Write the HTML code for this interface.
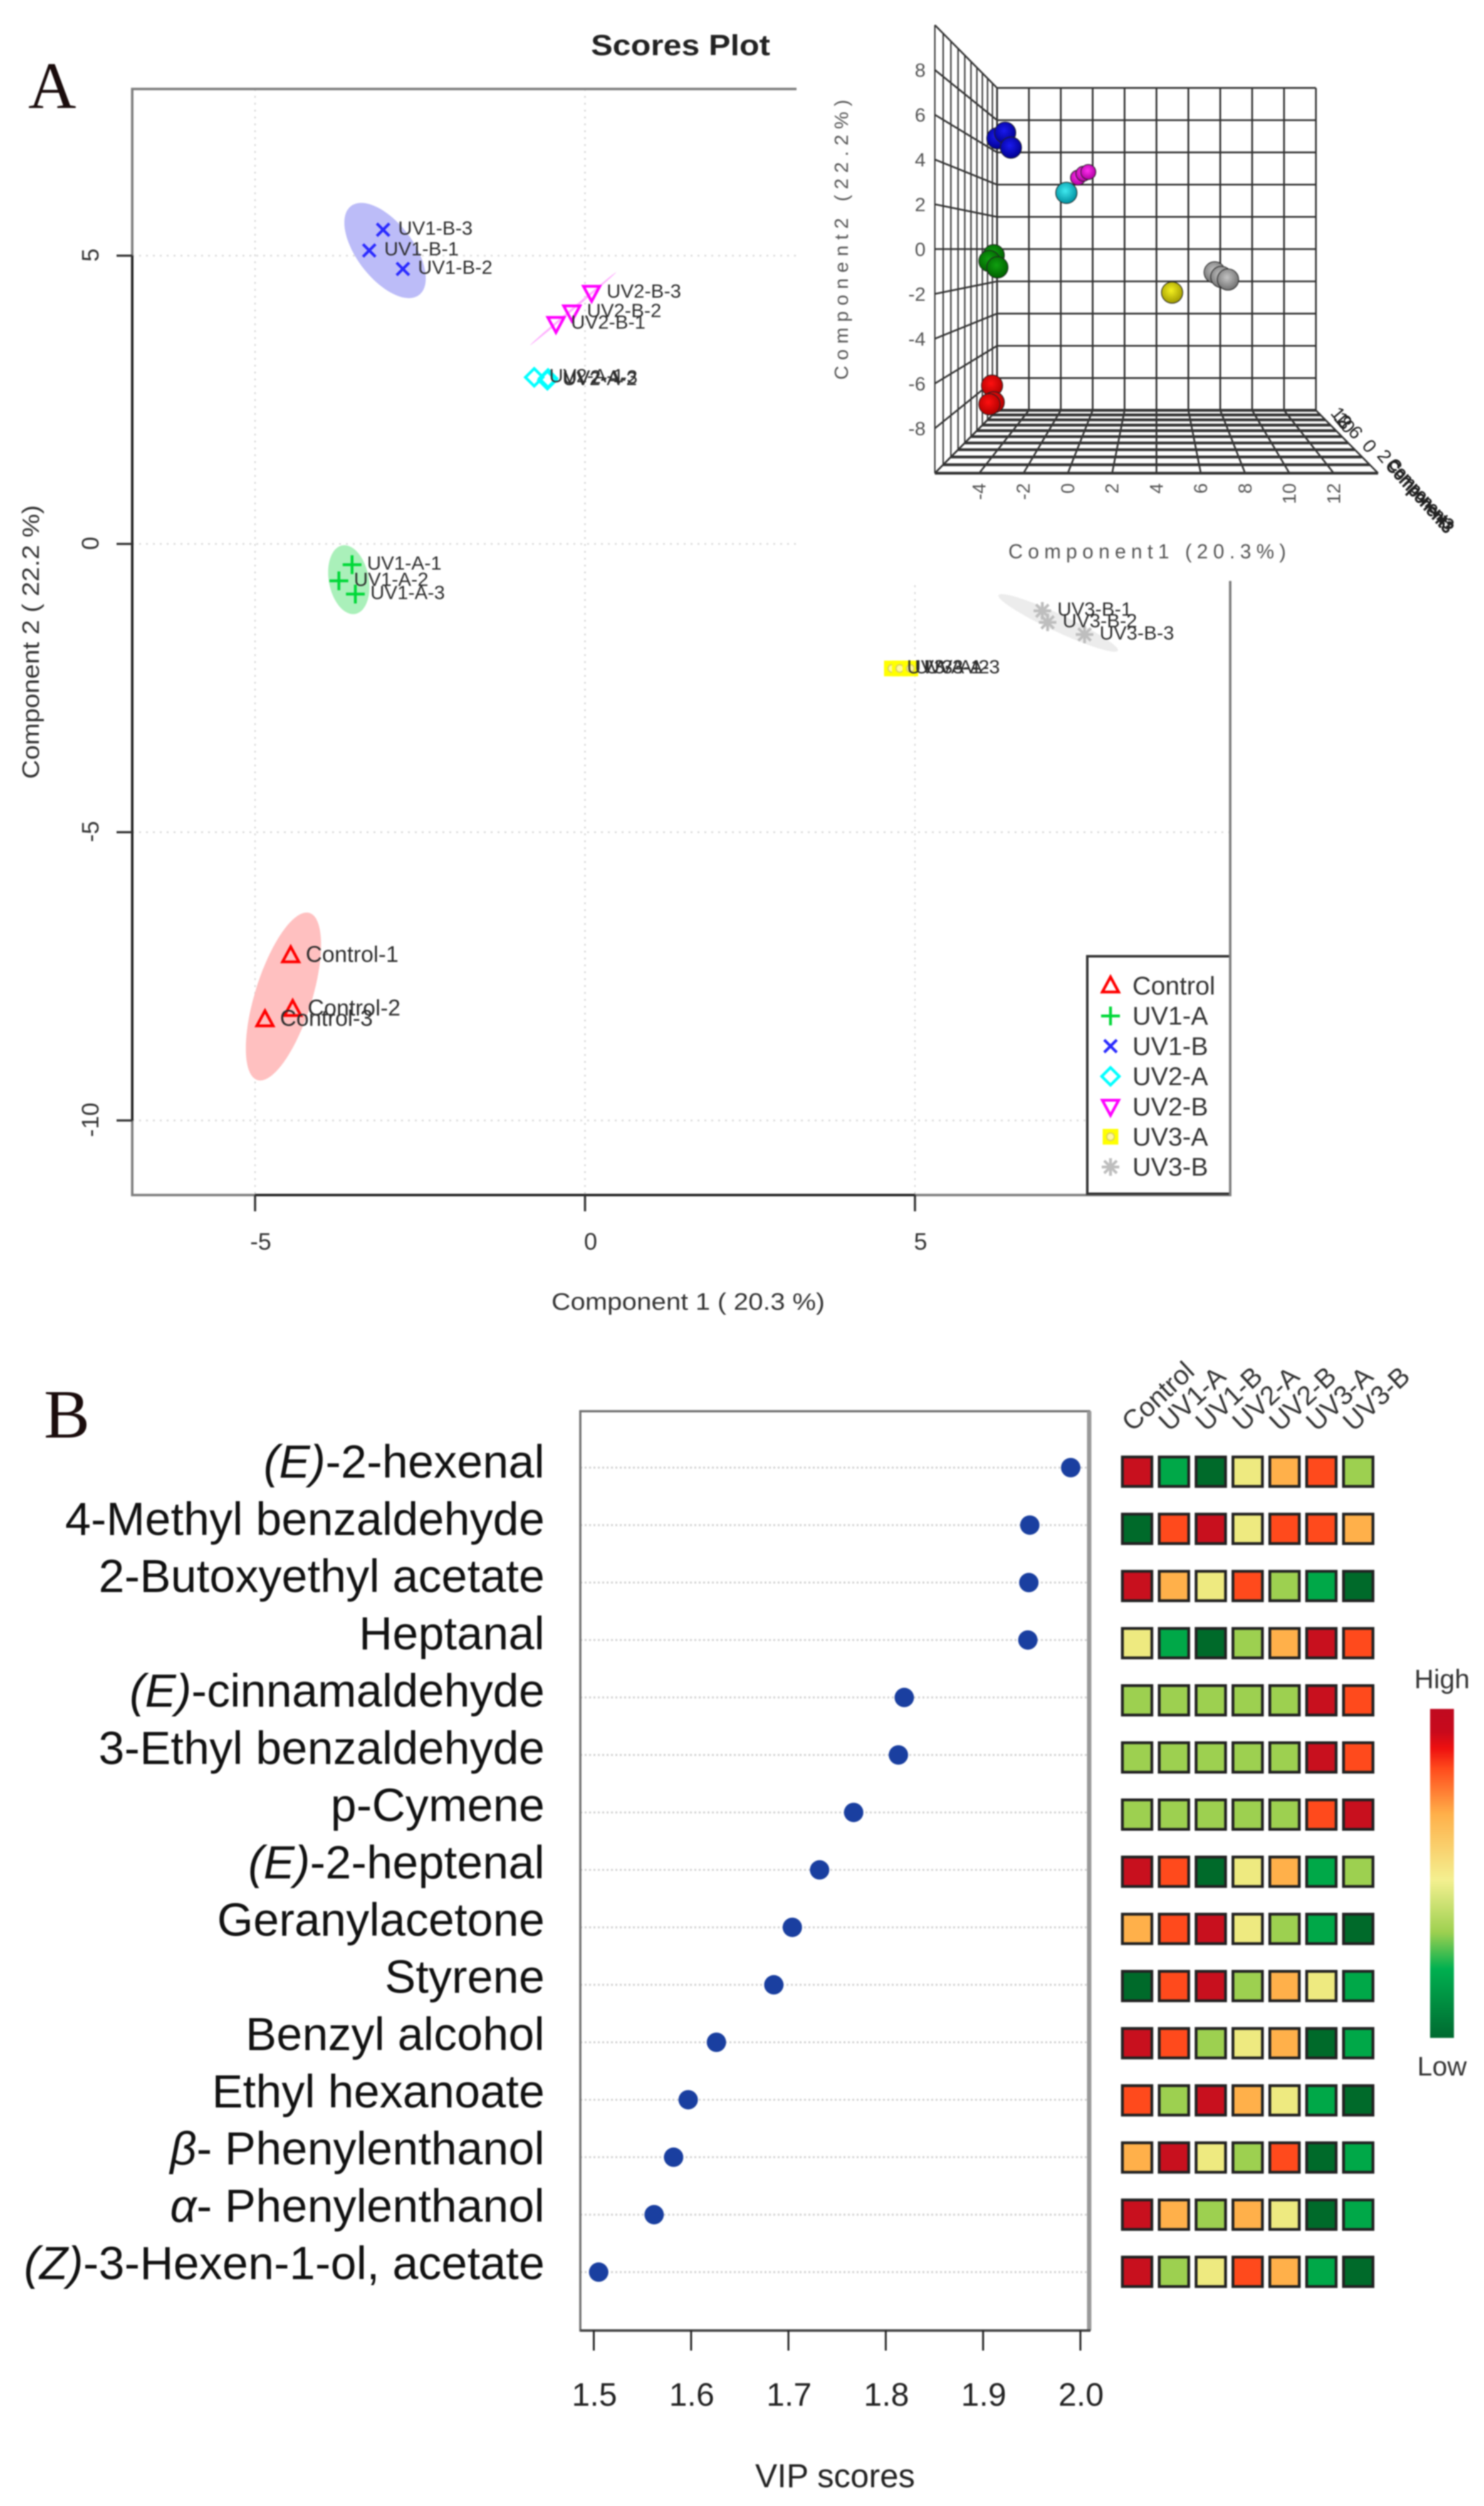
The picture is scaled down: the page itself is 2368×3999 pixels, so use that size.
<!DOCTYPE html>
<html lang="en">
<head>
<meta charset="utf-8">
<title>Scores plot and VIP scores</title>
<style>
html,body{margin:0;padding:0;background:#fff;width:2368px;height:3999px;overflow:hidden}
svg{display:block;filter:blur(1.1px)}
text{font-family:"Liberation Sans",sans-serif}
.serif{font-family:"Liberation Serif",serif}
</style>
</head>
<body>
<svg id="fig" xmlns="http://www.w3.org/2000/svg" width="2368" height="3999" viewBox="0 0 2368 3999">
  <defs>
    <radialGradient id="sph-blue" cx="45%" cy="40%" r="60%"><stop offset="0" stop-color="#1a1af0"/><stop offset="1" stop-color="#000090"/></radialGradient>
    <radialGradient id="sph-magenta" cx="45%" cy="40%" r="60%"><stop offset="0" stop-color="#ff30f0"/><stop offset="1" stop-color="#b000a0"/></radialGradient>
    <radialGradient id="sph-cyan" cx="45%" cy="40%" r="60%"><stop offset="0" stop-color="#40eaf0"/><stop offset="1" stop-color="#0090a0"/></radialGradient>
    <radialGradient id="sph-green" cx="45%" cy="40%" r="60%"><stop offset="0" stop-color="#10a010"/><stop offset="1" stop-color="#006000"/></radialGradient>
    <radialGradient id="sph-red" cx="45%" cy="40%" r="60%"><stop offset="0" stop-color="#ff1010"/><stop offset="1" stop-color="#b00000"/></radialGradient>
    <radialGradient id="sph-yellow" cx="45%" cy="40%" r="60%"><stop offset="0" stop-color="#f4f020"/><stop offset="1" stop-color="#a09a00"/></radialGradient>
    <radialGradient id="sph-gray" cx="45%" cy="40%" r="60%"><stop offset="0" stop-color="#c4c4c4"/><stop offset="1" stop-color="#707070"/></radialGradient>
    <linearGradient id="heat-gradient" x1="0" y1="0" x2="0" y2="1">
      <stop offset="0" stop-color="#c00a20"/>
      <stop offset="0.07" stop-color="#c80a1c"/>
      <stop offset="0.12" stop-color="#ee1010"/>
      <stop offset="0.18" stop-color="#ff4a1c"/>
      <stop offset="0.32" stop-color="#ffb04a"/>
      <stop offset="0.52" stop-color="#f4f090"/>
      <stop offset="0.68" stop-color="#9dd050"/>
      <stop offset="0.79" stop-color="#00b050"/>
      <stop offset="1" stop-color="#006a30"/>
    </linearGradient>
  </defs>

  <rect x="0" y="0" width="2368" height="3999" fill="#fff"/>

  <text class="serif" x="45" y="172" font-size="106" fill="#1a0c0c">A</text>
  <text x="943" y="88" font-size="46" font-weight="bold" fill="#222" textLength="286" lengthAdjust="spacingAndGlyphs">Scores Plot</text>

  <g id="scores"></g>

  <rect x="1271" y="0" width="1097" height="927" fill="#fff"/>
  <rect x="1961" y="927" width="4" height="980" fill="#808080"/>

  <g id="inset"></g>

  <text transform="translate(1353,606) rotate(-90)" font-size="31" fill="#555" textLength="447" lengthAdjust="spacing">Component2 (22.2%)</text>
  <text x="1609" y="891" font-size="32" fill="#555" textLength="443" lengthAdjust="spacing">Component1 (20.3%)</text>
  <g fill="#222" font-size="30">
    <text transform="translate(2122,660) rotate(50)">12</text>
    <text transform="translate(2127,668) rotate(50)">10</text>
    <text transform="translate(2133,675) rotate(50)">8</text>
    <text transform="translate(2150,690) rotate(50)">6</text>
    <text transform="translate(2172,712) rotate(50)">0</text>
    <text transform="translate(2196,728) rotate(50)">2</text>
    <text transform="translate(2210,744) rotate(48)" font-size="27" stroke="#222" stroke-width="1.5" textLength="146" lengthAdjust="spacingAndGlyphs">Component3</text>
    <text transform="translate(2214,741) rotate(48)" font-size="25" stroke="#222" stroke-width="1" textLength="142" lengthAdjust="spacingAndGlyphs">Component3</text>
  </g>

  <text class="serif" x="70" y="2294" font-size="110" fill="#1a0c0c">B</text>

  <g id="vip"></g>
  <g id="heat"></g>

  <rect x="2282" y="2727" width="38" height="525" fill="url(#heat-gradient)"/>
  <text x="2301" y="2694" font-size="43" text-anchor="middle" fill="#333">High</text>
  <text x="2301" y="3312" font-size="43" text-anchor="middle" fill="#333">Low</text>
</svg>

<script>
// ---- Panel A: 2D scores ----
const groupNames = ["Control", "UV1-A", "UV1-B", "UV2-A", "UV2-B", "UV3-A", "UV3-B"];
const scoreLabels = ["Control-1", "Control-2", "Control-3", "UV1-A-1", "UV1-A-2", "UV1-A-3", "UV1-B-1", "UV1-B-2", "UV1-B-3", "UV2-A-1", "UV2-A-2", "UV2-A-3", "UV2-B-1", "UV2-B-2", "UV2-B-3", "UV3-A-1", "UV3-A-2", "UV3-A-3", "UV3-B-1", "UV3-B-2", "UV3-B-3"];
const scoreGroup = [0, 0, 0, 1, 1, 1, 2, 2, 2, 3, 3, 3, 4, 4, 4, 5, 5, 5, 6, 6, 6];
const scoreComp1 = [-4.46, -4.43, -4.85, -3.53, -3.73, -3.48, -3.27, -2.76, -3.06, -0.77, -0.57, -0.56, -0.44, -0.20, 0.10, 4.65, 4.77, 4.93, 6.93, 7.01, 7.57];
const scoreComp2 = [-7.14, -8.07, -8.25, -0.36, -0.64, -0.87, 5.09, 4.77, 5.45, 2.89, 2.84, 2.87, 3.82, 4.02, 4.36, -2.16, -2.16, -2.16, -1.16, -1.36, -1.57];
const ellipseGroup = [0, 1, 2, 4, 6];
const ellipseMeanX = [-4.57, -3.58, -3.03, -0.18, 7.17];
const ellipseMeanY = [-7.85, -0.62, 5.09, 4.08, -1.37];
const ellipseSdX = [0.570, 0.313, 0.617, 0.652, 0.906];
const ellipseSdY = [1.457, 0.598, 0.826, 0.633, 0.500];
const ellipseCorr = [0.617, -0.212, -0.585, 0.999, -0.943];
const scoreXTicks = [-5, 0, 5];
const scoreYTicks = [5, 0, -5, -10];

// ---- Panel A inset: 3D scores ----
const insetSeries = [2, 2, 2, 4, 4, 4, 3, 1, 1, 1, 0, 0, 0, 5, 6, 6, 6];
const insetComp1 = [-3.46, -3.10, -2.83, 0.29, 0.54, 0.77, -0.25, -3.63, -3.83, -3.46, -3.71, -3.63, -3.83, 4.67, 6.65, 6.96, 7.27];
const insetComp2 = [5.10, 5.36, 4.67, 3.29, 3.47, 3.55, 2.59, -0.28, -0.55, -0.84, -6.28, -7.05, -7.14, -2.00, -1.07, -1.28, -1.40];
const insetXTicks = [-4, -2, 0, 2, 4, 6, 8, 10, 12];
const insetYTicks = [8, 6, 4, 2, 0, -2, -4, -6, -8];

// ---- Panel B: VIP ----
const vipPrefix = ["(E)", "", "", "", "(E)", "", "", "(E)", "", "", "", "", "β", "α", "(Z)"];
const vipName = ["-2-hexenal", "4-Methyl benzaldehyde", "2-Butoxyethyl acetate", "Heptanal", "-cinnamaldehyde", "3-Ethyl benzaldehyde", "p-Cymene", "-2-heptenal", "Geranylacetone", "Styrene", "Benzyl alcohol", "Ethyl hexanoate", "- Phenylenthanol", "- Phenylenthanol", "-3-Hexen-1-ol, acetate"];
const vipScores = [1.990, 1.948, 1.947, 1.946, 1.819, 1.813, 1.767, 1.732, 1.704, 1.685, 1.626, 1.597, 1.582, 1.562, 1.505];
const vipTicks = [1.5, 1.6, 1.7, 1.8, 1.9, 2.0];
const heatColumns = ["Control", "UV1-A", "UV1-B", "UV2-A", "UV2-B", "UV3-A", "UV3-B"];
const heatRows = [
  [7, 2, 1, 4, 5, 6, 3],
  [1, 6, 7, 4, 6, 6, 5],
  [7, 5, 4, 6, 3, 2, 1],
  [4, 2, 1, 3, 5, 7, 6],
  [3, 3, 3, 3, 3, 7, 6],
  [3, 3, 3, 3, 3, 7, 6],
  [3, 3, 3, 3, 3, 6, 7],
  [7, 6, 1, 4, 5, 2, 3],
  [5, 6, 7, 4, 3, 2, 1],
  [1, 6, 7, 3, 5, 4, 2],
  [7, 6, 3, 4, 5, 1, 2],
  [6, 3, 7, 5, 4, 2, 1],
  [5, 7, 4, 3, 6, 1, 2],
  [7, 5, 3, 5, 4, 1, 2],
  [7, 3, 4, 6, 5, 2, 1]
];

// ---- Styles ----
const groupColor = ["#ff0000", "#00d838", "#2a2aff", "#00ffff", "#ff00ff", "#ffff00", "#bebebe"];
const ellipseFill = ["#ffc0c0", "#aaf0ba", "#bcbcf8", "#ffb0ff", "#ececec"];
const sphereFill = ["red", "green", "blue", "cyan", "magenta", "yellow", "gray"];
const heatPalette = ["", "#006a2a", "#00a848", "#9dd050", "#eeea80", "#ffb04a", "#ff4a1c", "#c8101e"];

const NS = "http://www.w3.org/2000/svg";
function mk(tag, attrs, parent) {
  const el = document.createElementNS(NS, tag);
  for (const k in attrs) el.setAttribute(k, attrs[k]);
  parent.appendChild(el);
  return el;
}

// Axis functions, panel A
const sx = v => 933.5 + 105.3 * v;
const sy = v => 868 - 92 * v;

const scores = document.getElementById("scores");

function drawMarker(parent, g, x, y, nm) {
  const c = groupColor[g];
  const p = {fill: "none", stroke: c, "stroke-width": 4.5};
  let el;
  if (g === 0) {
    el = mk("polygon", Object.assign({points: (x) + "," + (y - 14) + " " + (x + 13) + "," + (y + 10) + " " + (x - 13) + "," + (y + 10)}, p), parent);
  } else if (g === 1) {
    el = mk("path", Object.assign({d: "M" + (x - 15) + " " + y + "H" + (x + 15) + "M" + x + " " + (y - 15) + "V" + (y + 15)}, p), parent);
  } else if (g === 2) {
    el = mk("path", Object.assign({d: "M" + (x - 10) + " " + (y - 10) + "L" + (x + 10) + " " + (y + 10) + "M" + (x - 10) + " " + (y + 10) + "L" + (x + 10) + " " + (y - 10)}, p), parent);
  } else if (g === 3) {
    el = mk("polygon", Object.assign({points: x + "," + (y - 14) + " " + (x + 14) + "," + y + " " + x + "," + (y + 14) + " " + (x - 14) + "," + y}, p), parent);
  } else if (g === 4) {
    el = mk("polygon", Object.assign({points: x + "," + (y + 14) + " " + (x + 13) + "," + (y - 10) + " " + (x - 13) + "," + (y - 10)}, p), parent);
  } else if (g === 5) {
    el = mk("rect", {x: x - 12, y: y - 12, width: 24, height: 24, fill: c, stroke: c, "stroke-width": 1}, parent);
    const inner = mk("circle", {cx: x, cy: y, r: 6, fill: "#fff8a0", stroke: "#d8d060", "stroke-width": 2}, parent);
    
    
  } else {
    el = mk("path", Object.assign({d: "M" + (x - 14) + " " + y + "H" + (x + 14) + "M" + x + " " + (y - 14) + "V" + (y + 14) + "M" + (x - 10) + " " + (y - 10) + "L" + (x + 10) + " " + (y + 10) + "M" + (x - 10) + " " + (y + 10) + "L" + (x + 10) + " " + (y - 10)}, p), parent);
  }
  
  
  return el;
}

// Grid
scoreXTicks.forEach(t => {
  const el = mk("line", {x1: sx(t), x2: sx(t), y1: 142, y2: 1907, stroke: "#d8d8d8", "stroke-width": 2.5, "stroke-dasharray": "3 8"}, scores);
  
  
});
scoreYTicks.forEach(t => {
  const el = mk("line", {x1: 211, x2: 1963, y1: sy(t), y2: sy(t), stroke: "#d8d8d8", "stroke-width": 2.5, "stroke-dasharray": "3 8"}, scores);
  
  
});

// Confidence ellipses
ellipseGroup.forEach((g, i) => {
  const pts = [];
  for (let a = 0; a < 96; a++) {
    const t = a / 96 * 2 * Math.PI;
    const r = ellipseCorr[i];
    const px = ellipseMeanX[i] + ellipseSdX[i] * Math.cos(t);
    const py = ellipseMeanY[i] + ellipseSdY[i] * (r * Math.cos(t) + Math.sqrt(1 - r * r) * Math.sin(t));
    pts.push(sx(px).toFixed(1) + "," + sy(py).toFixed(1));
  }
  const el = mk("polygon", {points: pts.join(" "), fill: ellipseFill[i]}, scores);
  
  
});

// Plot box + axes
const box = mk("rect", {x: 211, y: 142, width: 1752, height: 1765, fill: "none", stroke: "#808080", "stroke-width": 4}, scores);


const xAxisLine = mk("line", {x1: sx(scoreXTicks[0]), x2: sx(scoreXTicks[scoreXTicks.length - 1]), y1: 1907, y2: 1907, stroke: "#222", "stroke-width": 4}, scores);


const yAxisLine = mk("line", {x1: 211, x2: 211, y1: sy(scoreYTicks[0]), y2: sy(scoreYTicks[scoreYTicks.length - 1]), stroke: "#222", "stroke-width": 4}, scores);



scoreXTicks.forEach(t => {
  const tk = mk("line", {x1: sx(t), x2: sx(t), y1: 1907, y2: 1933, stroke: "#333", "stroke-width": 3.5}, scores);
  
  
  const lb = mk("text", {x: sx(t) + 9, y: 1994, "font-size": 38, fill: "#333", "text-anchor": "middle"}, scores);
  lb.textContent = String(t);
  
  
});
scoreYTicks.forEach(t => {
  const tk = mk("line", {x1: 186, x2: 211, y1: sy(t), y2: sy(t), stroke: "#333", "stroke-width": 3.5}, scores);
  
  
  const lb = mk("text", {transform: "translate(157," + (sy(t) - 1) + ") rotate(-90)", "font-size": 38, fill: "#333", "text-anchor": "middle"}, scores);
  lb.textContent = String(t);
  
  
});

const xTitle = mk("text", {x: 880, y: 2090, "font-size": 38, fill: "#333", textLength: 436, lengthAdjust: "spacingAndGlyphs"}, scores);
xTitle.textContent = "Component 1 ( 20.3 %)";


const yTitle = mk("text", {transform: "translate(62,1243) rotate(-90)", "font-size": 38, fill: "#333", textLength: 437, lengthAdjust: "spacingAndGlyphs"}, scores);
yTitle.textContent = "Component 2 ( 22.2 %)";



// Points, then labels on top of every marker
scoreLabels.forEach((name, i) => {
  drawMarker(scores, scoreGroup[i], sx(scoreComp1[i]), sy(scoreComp2[i]), 'point-' + name);
});
scoreLabels.forEach((name, i) => {
  const x = sx(scoreComp1[i]), y = sy(scoreComp2[i]);
  const isControl = scoreGroup[i] === 0;
  const lb = mk("text", {x: x + 24, y: y + (isControl ? 10 : 8), "font-size": isControl ? 36 : 31, fill: "#2c2c2c"}, scores);
  lb.textContent = name;
  
  
});

// Legend
const legendBox = mk("rect", {x: 1735, y: 1526, width: 228, height: 379, fill: "#fff", stroke: "#333", "stroke-width": 4}, scores);


groupNames.forEach((name, i) => {
  const ly = 1573 + i * 48.2;
  drawMarker(scores, i, 1772, ly, 'legend-marker-' + name);
  const lb = mk("text", {x: 1807, y: ly + 14, "font-size": 41, fill: "#333"}, scores);
  lb.textContent = name;
  
  
});

// ---- Inset projection ----
const inset = document.getElementById("inset");
const depthScale = d => 1 / (1 + 0.39 * d);
const ix = (c1, d) => 1250 + 0.713 * (835 + (c1 - 4) * 49.6 * depthScale(d));
const iy = (c2, d) => 0.606 * (656 - c2 * 59 * depthScale(d));

function insetLine(x1, y1, x2, y2, nm, w) {
  const el = mk("line", {x1: x1, y1: y1, x2: x2, y2: y2, stroke: "#333", "stroke-width": w || 2.8}, inset);
  
  
}
for (let c = -6; c <= 14; c += 2) {
  insetLine(ix(c, 1), iy(10, 1), ix(c, 1), iy(-10, 1), 'inset-back-grid-vertical');
  insetLine(ix(c, 0), iy(-10, 0), ix(c, 1), iy(-10, 1), 'inset-floor-grid-depth');
}
for (let v = -10; v <= 10; v += 2) {
  insetLine(ix(-6, 1), iy(v, 1), ix(14, 1), iy(v, 1), 'inset-back-grid-horizontal');
  insetLine(ix(-6, 0), iy(v, 0), ix(-6, 1), iy(v, 1), 'inset-wall-grid-depth');
}
for (let s = 0; s <= 10; s++) {
  const d = s / 10;
  insetLine(ix(-6, d), iy(10, d), ix(-6, d), iy(-10, d), 'inset-wall-grid-vertical', s < 10 ? 2.2 : 2.8);
  insetLine(ix(-6, d), iy(-10, d), ix(14, d), iy(-10, d), 'inset-floor-grid-horizontal', 4.5);
}

insetXTicks.forEach(t => {
  const lb = mk("text", {transform: "translate(" + (ix(t, 0) + 10) + ",771) rotate(-90)", "font-size": 30, fill: "#555", "text-anchor": "end"}, inset);
  lb.textContent = String(t);
  
  
});
insetYTicks.forEach(t => {
  const lb = mk("text", {x: 1477, y: iy(t, 0) + 11, "font-size": 31, fill: "#555", "text-anchor": "end"}, inset);
  lb.textContent = String(t);
  
  
});

insetSeries.forEach((g, i) => {
  const el = mk("circle", {cx: ix(insetComp1[i], 0.08) + 2, cy: iy(insetComp2[i], 0.08), r: g === 4 ? 12 : 17, fill: "url(#sph-" + sphereFill[g] + ")", stroke: "#222", "stroke-width": 1.2}, inset);
  
  
});

// ---- Panel B ----
const vip = document.getElementById("vip");
const vx = v => 947.5 + (v - 1.5) * 1553;
const vy = i => 2342 + 91.7 * i;
const labelBaseline = i => 2358 + 91.35 * i;

vipScores.forEach((_, i) => {
  const gl = mk("line", {x1: 926, x2: 1738, y1: vy(i), y2: vy(i), stroke: "#cfcfcf", "stroke-width": 3, "stroke-dasharray": "3 4"}, vip);
  
  
});

const vipFrame = mk("rect", {x: 926, y: 2252, width: 812, height: 1467, fill: "none", stroke: "#707070", "stroke-width": 3.5}, vip);


const vipRight = mk("line", {x1: 1738, x2: 1738, y1: 2252, y2: 3719, stroke: "#999", "stroke-width": 7}, vip);


const vipBottom = mk("line", {x1: 926, x2: 1740, y1: 3719, y2: 3719, stroke: "#444", "stroke-width": 4}, vip);



vipScores.forEach((score, i) => {
  const dot = mk("circle", {cx: vx(score), cy: vy(i), r: 15.5, fill: "#1a3fa0"}, vip);
  
  
  const lb = mk("text", {x: 869, y: labelBaseline(i), "font-size": 74, fill: "#111", "text-anchor": "end"}, vip);
  
  
  if (vipPrefix[i]) {
    const it = mk("tspan", {"font-style": "italic"}, lb);
    it.textContent = vipPrefix[i];
    
    
  }
  const rest = mk("tspan", {}, lb);
  rest.textContent = vipName[i];
  
  
});

vipTicks.forEach(t => {
  const tk = mk("line", {x1: vx(t), x2: vx(t), y1: 3719, y2: 3751, stroke: "#222", "stroke-width": 3}, vip);
  
  
  const lb = mk("text", {x: vx(t) + 1, y: 3839, "font-size": 52, fill: "#222", "text-anchor": "middle"}, vip);
  lb.textContent = t.toFixed(1);
  
  
});
const vipTitle = mk("text", {x: 1205, y: 3969, "font-size": 53, fill: "#222", textLength: 255, lengthAdjust: "spacingAndGlyphs"}, vip);
vipTitle.textContent = "VIP scores";



// Heatmap
const heat = document.getElementById("heat");
const hx = c => 1789 + 58.8 * c;
const hy = r => 2323 + 91.2 * r;
heatRows.forEach((row, r) => {
  row.forEach((level, c) => {
    const cell = mk("rect", {x: hx(c) + 2, y: hy(r) + 2, width: 47, height: 47, fill: heatPalette[level], stroke: "#222", "stroke-width": 4.5}, heat);
    
    
  });
});
heatColumns.forEach((name, c) => {
  const lb = mk("text", {transform: "translate(" + (hx(c) + 18) + ",2286) rotate(-43)", "font-size": 43, fill: "#333"}, heat);
  lb.textContent = name;
  
  
});
</script>
</body>
</html>
